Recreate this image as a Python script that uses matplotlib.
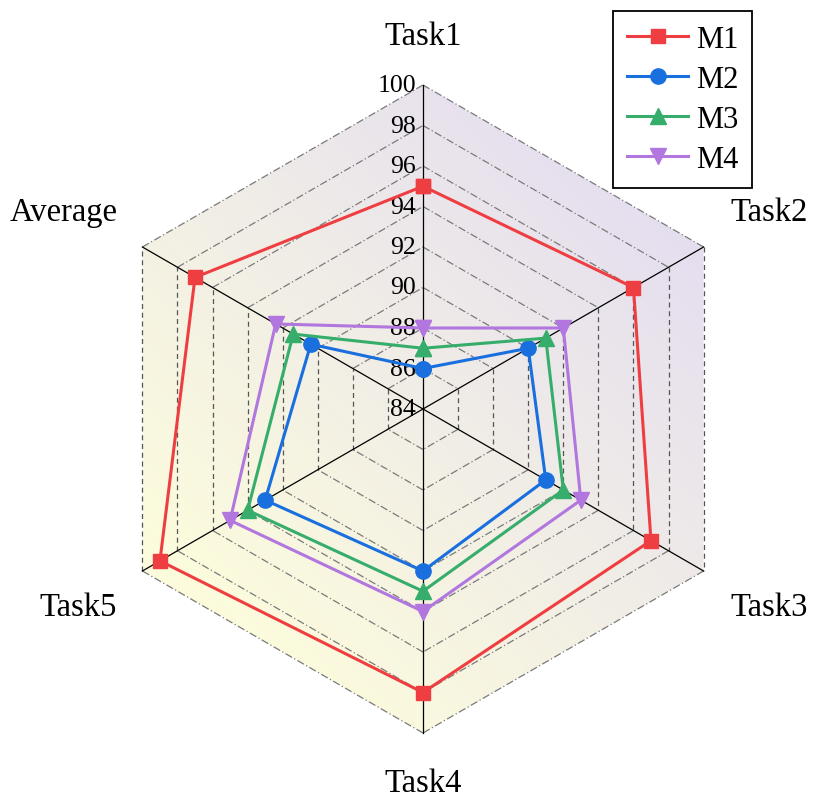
import numpy as np
import matplotlib
matplotlib.use("Agg")
import matplotlib.pyplot as plt
from matplotlib.patches import Polygon

plt.rcParams['font.family'] = ['Liberation Serif', 'DejaVu Serif']

# data
labels = ['Task1', 'Task2', 'Task3', 'Task4', 'Task5', 'Average']
m1 = [95, 96, 97, 98, 99, 97]
m2 = [86, 90, 91, 92, 93, 90.4]
m3 = [87, 91, 92, 93, 94, 91.4]
m4 = [88, 92, 93, 94, 95, 92.4]
series_names = ['M1', 'M2', 'M3', 'M4']
ticks = [84, 86, 88, 90, 92, 94, 96, 98, 100]

r_min, r_max = 84, 100

colors = ['#ef3e42', '#1a6fdf', '#37ad6b', '#b177de']
markers = ['s', 'o', '^', 'v']

# angles: clockwise from top
angles = np.deg2rad(90 - 60 * np.arange(len(labels)))


def to_xy(vals):
    r = np.asarray(vals, dtype=float) - r_min
    x = r * np.cos(angles)
    y = r * np.sin(angles)
    return np.append(x, x[0]), np.append(y, y[0])


fig = plt.figure(figsize=(8.36, 8.04), dpi=100)
ax = fig.add_axes([0, 0, 1, 1])
unit = 20.25  # pixels per unit
ax.set_xlim(-423 / unit, (836 - 423) / unit)
ax.set_ylim(-(804 - 410) / unit, 410 / unit)
ax.set_aspect('equal')
ax.axis('off')

R = r_max - r_min
hx = R * np.cos(angles)
hy = R * np.sin(angles)

# gradient background clipped to outer hexagon
n = 300
gx, gy = np.meshgrid(np.linspace(-R, R, n), np.linspace(-R, R, n))
t = (gx + gy) / np.sqrt(2) / (0.966 * R) * 0.5 + 0.5  # 0 lower-left, 1 upper-right
t = np.clip(t, 0, 1)
c0 = np.array([253, 253, 220]) / 255.0
c1 = np.array([229, 222, 240]) / 255.0
img = c0[None, None, :] * (1 - t[..., None]) + c1[None, None, :] * t[..., None]
im = ax.imshow(img, extent=(-R, R, -R, R), origin='lower', zorder=0)
hexpatch = Polygon(np.column_stack([hx, hy]), closed=True, transform=ax.transData,
                   facecolor='none', edgecolor='none')
ax.add_patch(hexpatch)
im.set_clip_path(hexpatch)

# grid rings
for tv in ticks[1:]:
    r = tv - r_min
    px = r * np.cos(angles)
    py = r * np.sin(angles)
    for i in range(len(labels)):
        j = (i + 1) % len(labels)
        xs = [px[i], px[j]]
        ys = [py[i], py[j]]
        if abs(xs[0] - xs[1]) < 1e-6:
            ax.plot(xs, ys, color='#555555', lw=0.9, ls=(0, (4, 3)), zorder=1)
        else:
            ax.plot(xs, ys, color='#7a7a7a', lw=0.9, ls=(0, (6, 2, 1, 2)), zorder=1)

# radial axes
for i in range(len(labels)):
    ax.plot([0, hx[i]], [0, hy[i]], color='black', lw=0.9, zorder=2)

# tick labels
for tv in ticks:
    ax.text(-0.35, tv - r_min, str(tv), ha='right', va='center', fontsize=18.5, zorder=3)

# category labels
for i, lab in enumerate(labels):
    a = angles[i]
    if abs(np.cos(a)) < 1e-6:
        ax.text(0, np.sign(np.sin(a)) * 18.45, lab, ha='center', va='center', fontsize=23.5)
    elif np.cos(a) > 0:
        ax.text(15.2, np.sign(np.sin(a)) * 9.75, lab, ha='left', va='center', fontsize=23.5)
    else:
        ax.text(-15.1, np.sign(np.sin(a)) * 9.75, lab, ha='right', va='center', fontsize=23.5)

# series
for vals, name, col, mk in zip([m1, m2, m3, m4], series_names, colors, markers):
    x, y = to_xy(vals)
    ax.plot(x, y, color=col, lw=2.2, marker=mk, markersize=10 if mk == 's' else 11,
            label=name, zorder=5)

leg = fig.legend(loc='upper right', bbox_to_anchor=(752 / 836, 1 - 12 / 804),
                 fontsize=22, fancybox=False, framealpha=1, edgecolor='black',
                 borderaxespad=0, handlelength=2.0, labelspacing=0.36,
                 handletextpad=0.25, borderpad=0.45)
leg.get_frame().set_linewidth(1.3)

fig.savefig('out.png', dpi=100)
